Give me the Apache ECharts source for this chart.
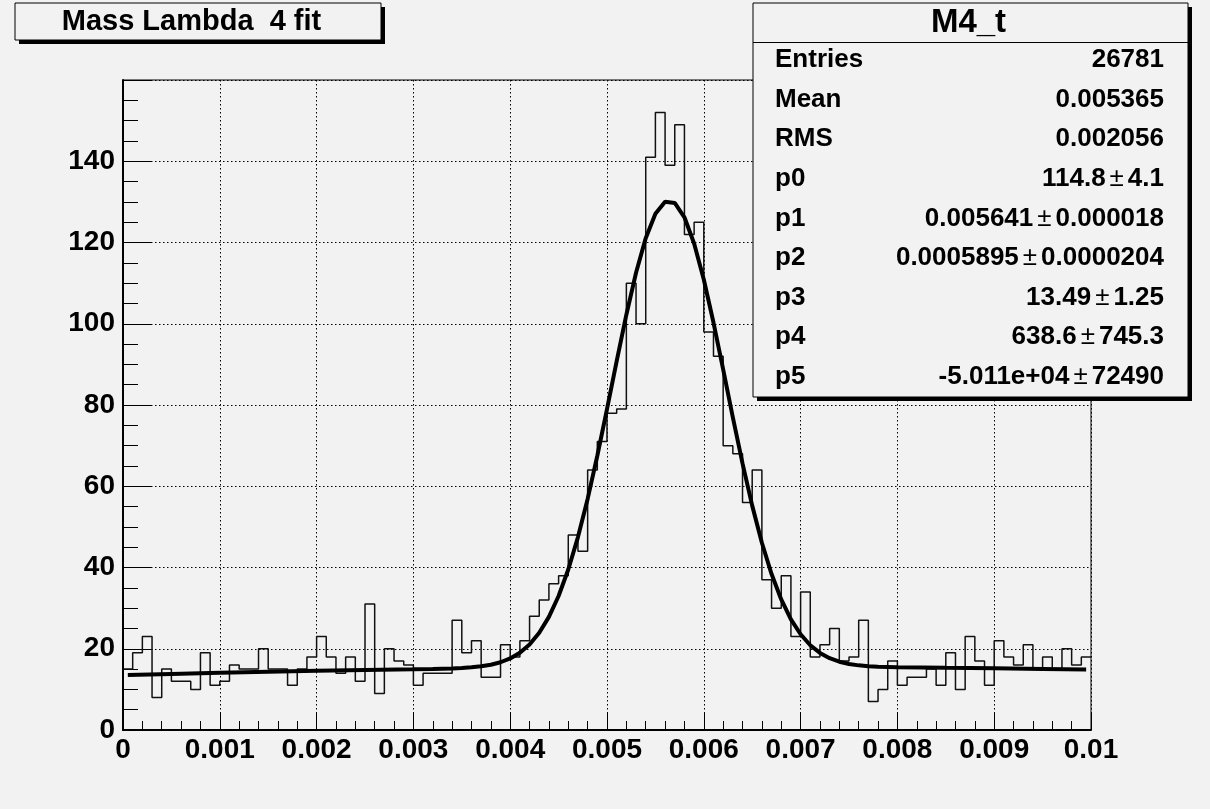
<!DOCTYPE html>
<html><head><meta charset="utf-8">
<script src="https://cdn.jsdelivr.net/npm/echarts@6/dist/echarts.min.js"></script>
<style>html,body{margin:0;padding:0;background:#f2f2f2}#c{width:1210px;height:809px}</style>
</head><body><div id="c"></div>
<script>
// ---- data ----
const xMin = 0, xMax = 0.01, binWidth = 0.0001;
const yMin = 0, yMax = 160;
const counts = [
  15,19,23,8,15,12,12,10,19,11,
  12,16,15,15,20,15,15,11,15,18,
  23,18,14,18,12,31,9,20,17,16,
  11,14,14,14,27,19,22,13,13,21,
  18,22,28,32,36,38,48,44,64,71,
  78,79,110,100,141,152,139,149,122,125,
  98,92,70,68,56,64,37,30,38,23,
  34,18,21,25,17,18,27,7,10,17,
  11,13,13,15,11,19,10,23,17,11,
  22,18,16,21,15,18,15,20,16,18
];
const fitX = [0.00005,0.0005,0.001,0.0015,0.002,0.0025,0.003,0.0032,0.0034,0.0035,0.0036,0.0037,0.0038,0.0039,
  0.0040,0.0041,0.0042,0.0043,0.0044,0.0045,0.0046,0.0047,0.0048,0.0049,
  0.0050,0.0051,0.0052,0.0053,0.0054,0.0055,0.0056,0.0057,0.0058,0.0059,
  0.0060,0.0061,0.0062,0.0063,0.0064,0.0065,0.0066,0.0067,0.0068,0.0069,
  0.0070,0.0071,0.0072,0.0073,0.0074,0.0075,0.0076,0.0077,0.0078,0.0080,0.0085,0.0090,0.0095,0.00995];
const fitY = [13.52,13.80,14.08,14.34,14.57,14.77,14.95,15.03,15.16,15.27,15.43,15.67,16.07,16.68,
  17.62,19.03,21.06,23.94,27.85,32.99,39.52,47.49,56.89,67.51,
  78.99,90.79,102.23,112.57,121.07,127.05,130.02,129.73,126.21,119.75,
  110.88,100.30,88.75,76.97,65.63,55.23,46.09,38.38,32.13,27.25,
  23.56,20.87,18.97,17.67,16.81,16.26,15.91,15.69,15.56,15.43,15.30,15.18,15.03,14.88];
const titleText = 'Mass Lambda  4 fit';
const statsName = 'M4_t';
const statsLabels = ['Entries','Mean','RMS','p0','p1','p2','p3','p4','p5'];
const statsValues = [['26781'],['0.005365'],['0.002056'],['114.8','4.1'],['0.005641','0.000018'],
  ['0.0005895','0.0000204'],['13.49','1.25'],['638.6','745.3'],['-5.011e+04','72490']];

// ---- build ----
const FONT = '"Liberation Sans", Arial, Helvetica, sans-serif';
const histData = counts.map((c, i) => [xMin + i * binWidth, c]);
histData.push([xMax, counts[counts.length - 1]]);
const fitData = fitX.map((x, i) => [x, fitY[i]]);

const graphic = [];
// title box
graphic.push({type:'rect', z:100, shape:{x:19, y:7, width:366, height:37}, style:{fill:'#000'}});
graphic.push({type:'rect', z:101, shape:{x:15, y:3, width:366, height:37}, style:{fill:'#f2f2f2', stroke:'#000', lineWidth:1}});
graphic.push({type:'text', z:102, style:{text:titleText, x:191.5, y:21.5, align:'center', verticalAlign:'middle',
  fontFamily:FONT, fontWeight:'bold', fontSize:29, fill:'#000'}});
// stats box
const bx = 753, by = 3, bw = 435, bh = 394;
graphic.push({type:'rect', z:100, shape:{x:bx+4, y:by+4, width:bw, height:bh}, style:{fill:'#000'}});
graphic.push({type:'rect', z:101, shape:{x:bx, y:by, width:bw, height:bh}, style:{fill:'#f2f2f2', stroke:'#000', lineWidth:1}});
graphic.push({type:'line', z:102, shape:{x1:bx, y1:42.5, x2:bx+bw, y2:42.5}, style:{stroke:'#000', lineWidth:1}});
graphic.push({type:'text', z:102, style:{text:statsName, x:bx+bw/2 - 2, y:23, align:'center', verticalAlign:'middle',
  fontFamily:FONT, fontWeight:'bold', fontSize:33, fill:'#000'}});
statsLabels.forEach((lab, i) => {
  const yc = 60 + 39.6 * i;
  graphic.push({type:'text', z:102, style:{text:lab, x:775, y:yc, align:'left', verticalAlign:'middle',
    fontFamily:FONT, fontWeight:'bold', fontSize:26, fill:'#000'}});
  const v = statsValues[i];
  const txt = v.length === 1 ? '{b|' + v[0] + '}' : '{b|' + v[0] + '}{s|±}{b|' + v[1] + '}';
  graphic.push({type:'text', z:102, style:{text:txt, x:1164, y:yc, align:'right', verticalAlign:'middle',
    fontFamily:FONT, fontSize:26, fill:'#000',
    rich:{b:{fontFamily:FONT, fontWeight:'bold', fontSize:26, fill:'#000'},
          s:{fontFamily:FONT, fontWeight:'normal', fontSize:26, fill:'#000', padding:[0,4,0,4]}}}});
});

const chart = echarts.init(document.getElementById('c'), null, {renderer:'canvas'});
chart.setOption({
  backgroundColor:'#f2f2f2',
  animation:false,
  grid:{left:123, right:119, top:80, bottom:79, show:true, borderColor:'#000', borderWidth:1, backgroundColor:'transparent'},
  xAxis:{type:'value', min:xMin, max:xMax, interval:0.001,
    axisLine:{show:true, onZero:false, lineStyle:{color:'#000', width:2}},
    axisTick:{show:true, inside:true, length:18, lineStyle:{color:'#000', width:1}},
    minorTick:{show:true, splitNumber:5, length:9, lineStyle:{color:'#000', width:1}},
    splitLine:{show:true, lineStyle:{color:'#000', width:1, type:[1.5,2.5]}},
    axisLabel:{color:'#000', fontFamily:FONT, fontWeight:'bold', fontSize:28, margin:6,
      formatter:v => String(+v.toFixed(4))}},
  yAxis:{type:'value', min:yMin, max:yMax, interval:20,
    axisLine:{show:true, onZero:false, lineStyle:{color:'#000', width:2}},
    axisTick:{show:true, inside:true, length:28, lineStyle:{color:'#000', width:1}},
    minorTick:{show:true, splitNumber:4, length:15, lineStyle:{color:'#000', width:1}},
    splitLine:{show:true, lineStyle:{color:'#000', width:1, type:[1.5,2.5]}},
    axisLabel:{color:'#000', fontFamily:FONT, fontWeight:'bold', fontSize:28, margin:8, showMaxLabel:false}},
  series:[
    {type:'line', data:histData, step:'end', showSymbol:false, symbol:'none', z:3,
      lineStyle:{color:'#111', width:1.5}},
    {type:'line', data:fitData, smooth:false, showSymbol:false, symbol:'none', z:4,
      lineStyle:{color:'#000', width:4}}
  ],
  graphic:graphic
});
</script></body></html>
